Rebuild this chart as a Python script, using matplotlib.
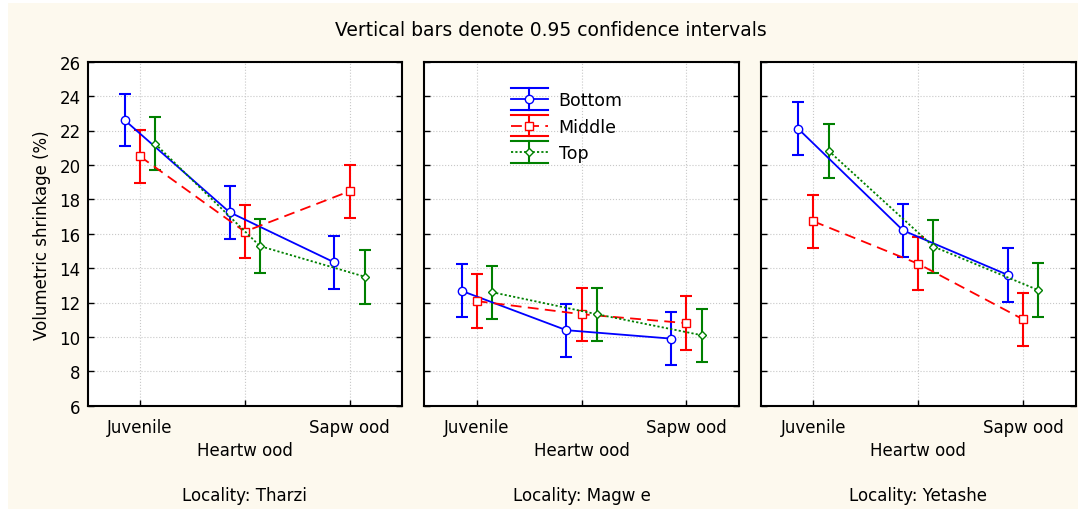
import matplotlib
matplotlib.use('Agg')
import matplotlib.pyplot as plt
import numpy as np
from matplotlib.legend_handler import HandlerLine2D
from matplotlib.lines import Line2D
from matplotlib.patches import Rectangle

# categories on the x axis and the three panels
categories = ['Juvenile', 'Heartw ood', 'Sapw ood']
localities = ['Tharzi', 'Magw e', 'Yetashe']
positions = ['Bottom', 'Middle', 'Top']

# mean volumetric shrinkage (%), one row per locality (Tharzi, Magwe, Yetashe)
bottom_mean = [[22.60, 17.25, 14.33], [12.68, 10.39, 9.90], [22.10, 16.19, 13.60]]
middle_mean = [[20.50, 16.12, 18.47], [12.08, 11.32, 10.80], [16.72, 14.25, 11.02]]
top_mean = [[21.23, 15.28, 13.50], [12.60, 11.32, 10.10], [20.82, 15.25, 12.72]]

# half width of the 0.95 confidence interval
bottom_ci = [[1.53, 1.55, 1.55], [1.55, 1.55, 1.55], [1.55, 1.55, 1.55]]
middle_ci = [[1.55, 1.55, 1.55], [1.55, 1.53, 1.55], [1.55, 1.55, 1.55]]
top_ci = [[1.55, 1.55, 1.58], [1.55, 1.55, 1.55], [1.56, 1.55, 1.57]]

#font
plt.rcParams['font.family'] = ['DejaVu Sans']
fs = 12

class ErrHandler(HandlerLine2D):
 #legend handle like statistica: wide caps above and below the line
 def create_artists(self, legend, orig_handle, xdescent, ydescent, width, height, fontsize, trans):
  arts = super().create_artists(legend, orig_handle, xdescent, ydescent, width, height, fontsize, trans)
  c = orig_handle.get_color()
  ym = (height - ydescent) / 2
  dy = 0.62 * fontsize
  xs = [-xdescent, -xdescent + width]
  xm = -xdescent + width / 2
  caps = [Line2D(xs, [ym + dy] * 2), Line2D(xs, [ym - dy] * 2), Line2D([xm, xm], [ym - dy, ym + dy])]
  for a in caps:
   a.set_color(c)
   a.set_linewidth(1.5)
   a.set_transform(trans)
  return caps + arts

fig = plt.figure(figsize=(10.78, 5.10), dpi=100)
fig.patch.set_facecolor('white')
fig.patches.append(Rectangle((8 / 1078, 0), 1, 1 - 4 / 510, transform=fig.transFigure,
                             facecolor='#fdf9ee', edgecolor='none', zorder=-10))

styles = [
 dict(color='#0000ff', ls='-', marker='o', ms=6, dashes=None),
 dict(color='#ff0000', ls='--', marker='s', ms=5.5, dashes=(6, 3.5)),
 dict(color='#008000', ls=':', marker='D', ms=4, dashes=(1.2, 1.2)),
]
means = [bottom_mean, middle_mean, top_mean]
cis = [bottom_ci, middle_ci, top_ci]
offsets = [-0.145, 0.0, 0.145]

lefts = [87.5, 424.3, 761]
x = np.arange(len(categories))
axes = []
for k, loc in enumerate(localities):
 ax = fig.add_axes([lefts[k] / 1078, 1 - 406.7 / 510, 314.5 / 1078, 344 / 510])
 axes.append(ax)
 for j in range(3):
  st = styles[j]
  line, = ax.plot(x + offsets[j], means[j][k], color=st['color'], lw=1.3, marker=st['marker'],
                  ms=st['ms'], mfc='white', mec=st['color'], mew=1.0, zorder=3)
  if st['dashes'] is not None:
   line.set_dashes(st['dashes'])
  ax.errorbar(x + offsets[j], means[j][k], yerr=cis[j][k], fmt='none', ecolor=st['color'],
              elinewidth=1.5, capsize=4, capthick=1.5, zorder=2)
 ax.set_xlim(-0.5, 2.5)
 ax.set_ylim(6, 26)
 ax.set_yticks(np.arange(6, 27, 2))
 # middle category label sits one row lower
 ax.xaxis.remove_overlapping_locs = False
 ax.set_xticks(x, [categories[0], '', categories[2]])
 ax.set_xticks([1], [categories[1]], minor=True)
 ax.tick_params(axis='x', which='major', direction='in', length=4, width=1, pad=8.6, labelsize=fs)
 ax.tick_params(axis='x', which='minor', length=0, pad=25.4, labelsize=fs)
 ax.tick_params(axis='y', direction='in', length=4, width=1, left=True, right=True, pad=5, labelsize=fs)
 if k > 0:
  ax.tick_params(axis='y', labelleft=False)
 ax.grid(True, which='major', color='#c8c8c8', ls=':', lw=0.8)
 ax.set_axisbelow(True)
 for sp in ax.spines.values():
  sp.set_linewidth(1.5)
 cx = (lefts[k] + 314.5 / 2) / 1078
 fig.text(cx, 1 - 496 / 510, 'Locality: ' + loc, ha='center', va='center', fontsize=fs)

axes[0].set_ylabel('Volumetric shrinkage (%)', fontsize=fs, labelpad=6)

#legend in the middle panel
handles = []
for j in range(3):
 st = styles[j]
 h = Line2D([], [], color=st['color'], lw=1.3, marker=st['marker'], ms=st['ms'], mfc='white',
            mec=st['color'], mew=1.0)
 if st['dashes'] is not None:
  h.set_dashes(st['dashes'])
 handles.append(h)
axes[1].legend(handles, positions, loc='upper left', bbox_to_anchor=(0.2745, 0.915), frameon=False,
               borderpad=0, borderaxespad=0, handlelength=2.16, handletextpad=0.6, labelspacing=0.5,
               fontsize=12.5, handler_map={Line2D: ErrHandler()})

fig.text(551 / 1078, 1 - 31 / 510, 'Vertical bars denote 0.95 confidence intervals',
         ha='center', va='center', fontsize=13.5)

fig.savefig('out.png', dpi=100, facecolor=fig.get_facecolor())
